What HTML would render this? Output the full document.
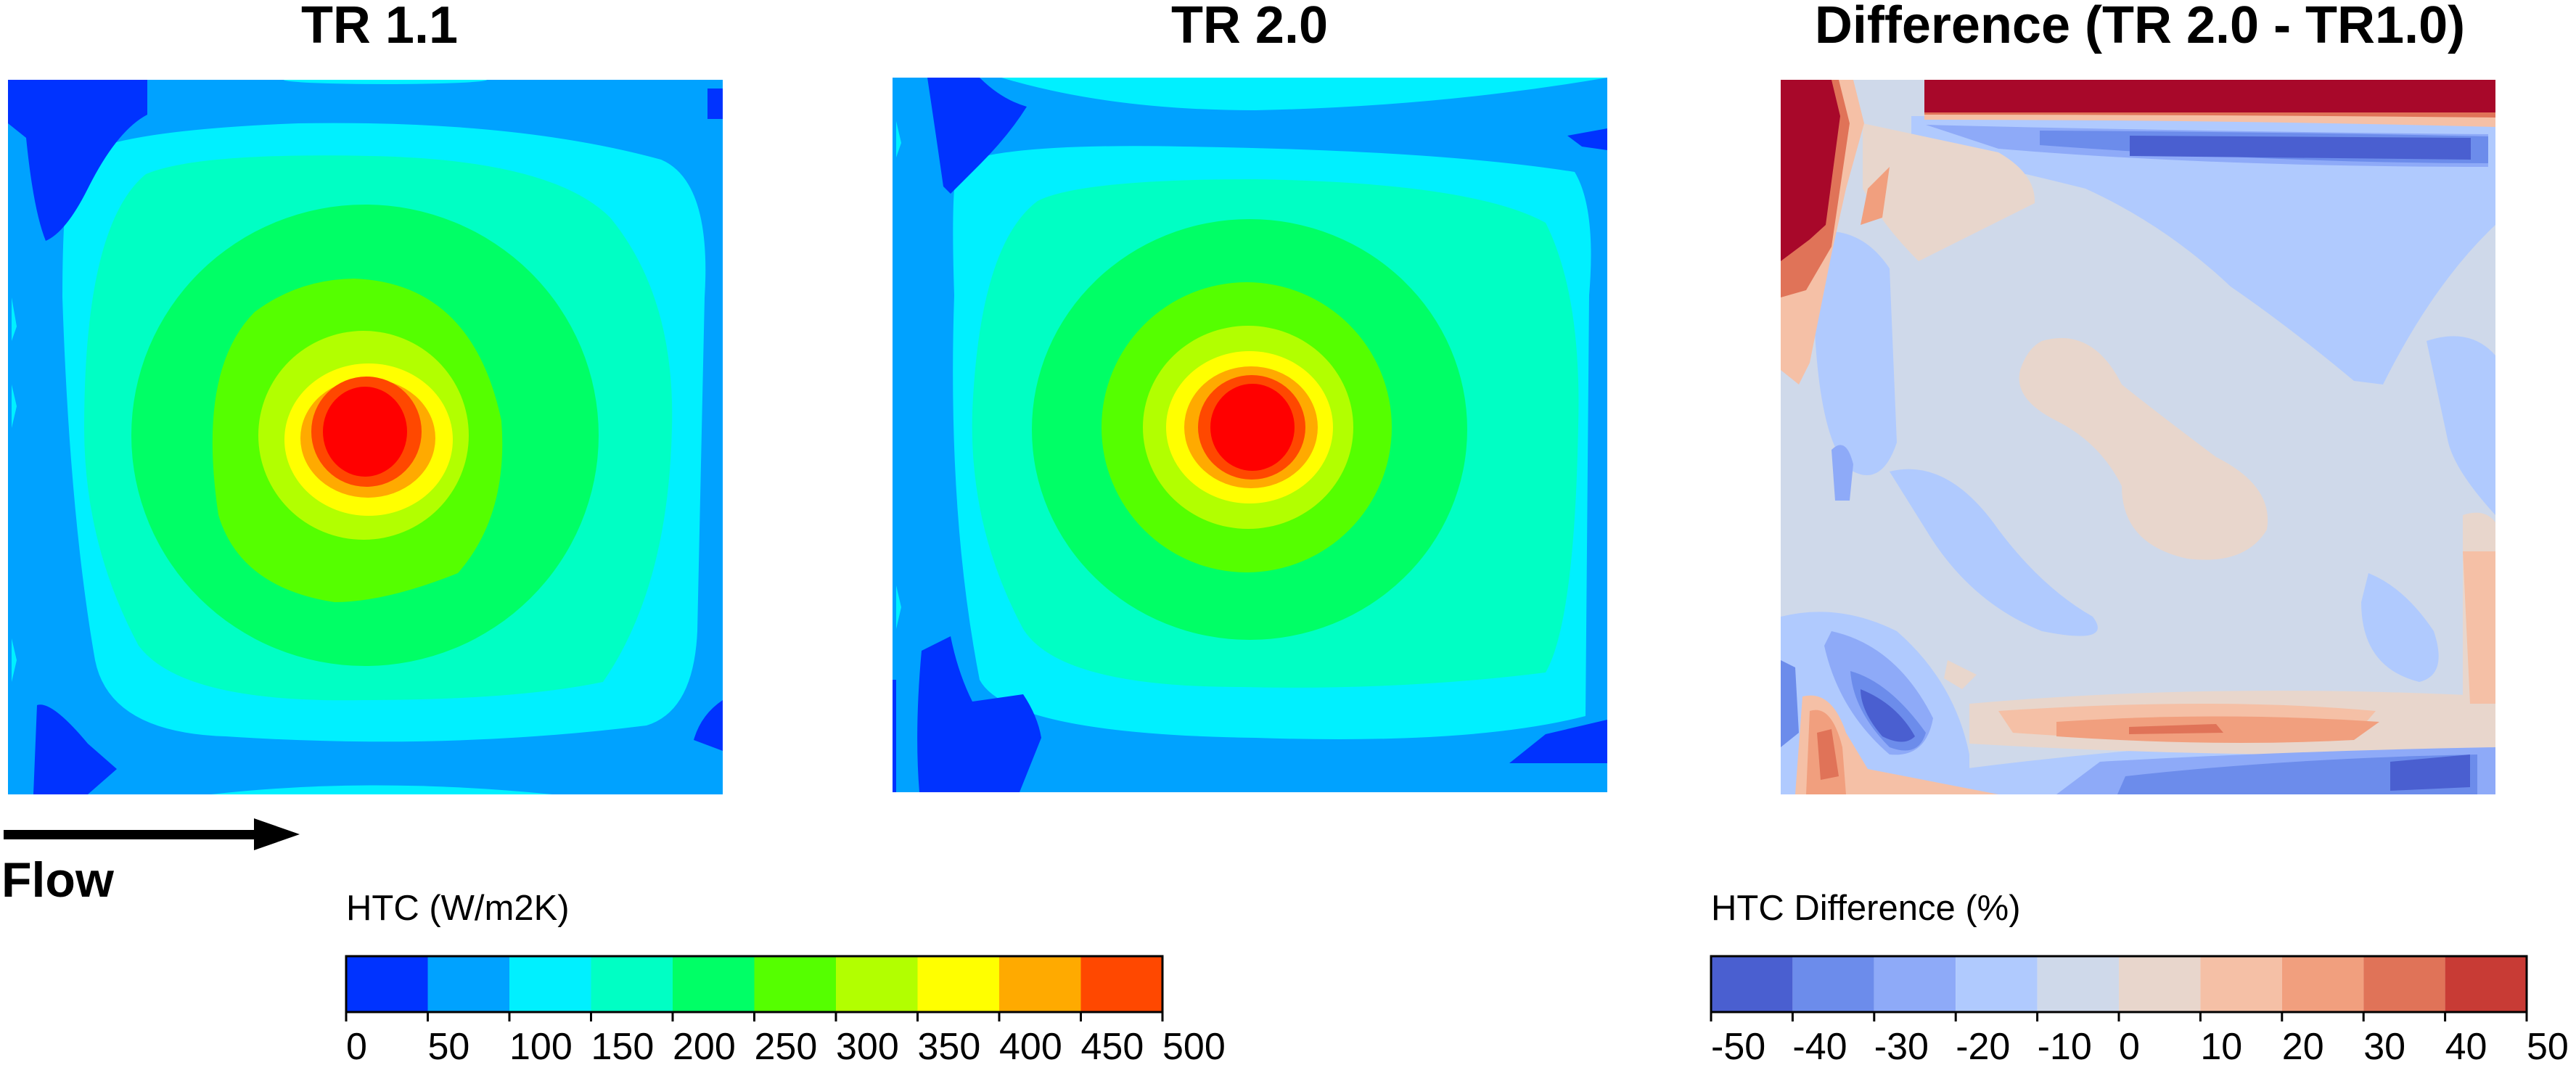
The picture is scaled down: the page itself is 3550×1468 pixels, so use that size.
<!DOCTYPE html>
<html><head><meta charset="utf-8"><style>
html,body{margin:0;padding:0;background:#fff;}
svg{display:block;font-family:"Liberation Sans",Arial,sans-serif;}
</style></head><body>
<svg width="3550" height="1468" viewBox="0 0 3550 1468" xmlns="http://www.w3.org/2000/svg">
<defs>
<clipPath id="c"><rect x="0" y="0" width="985" height="985"/></clipPath>
</defs>
<rect width="3550" height="1468" fill="#fff"/>

<!-- Titles -->
<text x="523" y="59" font-size="72" font-weight="bold" text-anchor="middle">TR 1.1</text>
<text x="1722" y="59" font-size="72" font-weight="bold" text-anchor="middle">TR 2.0</text>
<text x="2949" y="59" font-size="72" font-weight="bold" text-anchor="middle">Difference (TR 2.0 - TR1.0)</text>

<!-- Panel 1 -->
<g transform="translate(11,110)" clip-path="url(#c)">
<rect width="985" height="985" fill="#00a2ff"/>
<ellipse cx="520" cy="0" rx="140" ry="6" fill="#00f0ff"/>
<path d="M280,985 Q500,960 750,985 Z" fill="#00f0ff"/>
<path d="M90,110 Q140,70 400,60 Q700,55 900,110 Q970,140 960,300 L950,760 Q945,870 880,890 Q600,925 300,905 Q140,900 120,800 Q85,600 75,300 Q75,150 90,110 Z" fill="#00f0ff"/>
<path d="M190,130 Q260,100 500,105 Q750,110 830,190 Q920,300 915,480 Q910,700 820,830 Q700,855 490,855 Q240,860 180,780 Q105,640 105,480 Q105,200 190,130 Z" fill="#00ffc4"/>
<ellipse cx="492" cy="490" rx="322" ry="318" fill="#00ff66"/>
<path d="M477,274 Q640,280 680,470 Q690,600 620,680 Q520,720 450,720 Q320,700 290,600 Q260,400 340,320 Q400,275 477,274 Z" fill="#55ff00"/>
<ellipse cx="490" cy="490" rx="145" ry="144" fill="#b2ff00"/>
<ellipse cx="497" cy="496" rx="116" ry="105" fill="#ffff00"/>
<ellipse cx="496" cy="494" rx="93" ry="82" fill="#ffaa00"/>
<ellipse cx="494" cy="485" rx="76" ry="76" fill="#ff4800"/>
<ellipse cx="492" cy="485" rx="58" ry="62" fill="#ff0000"/>
<path d="M0,0 L192,0 L192,48 Q150,70 110,150 Q80,210 52,222 Q35,180 25,80 L0,60 Z" fill="#0033ff"/>
<rect x="964" y="12" width="21" height="42" fill="#0033ff"/>
<path d="M35,985 L40,862 Q60,855 110,915 L150,950 L110,985 Z" fill="#0033ff"/>
<path d="M985,925 L945,910 Q955,875 985,855 Z" fill="#0033ff"/>
<path d="M5,300 L12,340 L5,360 Z M5,420 L12,450 L5,480 Z M5,770 L12,800 L5,830 Z" fill="#00f0ff"/>
</g>

<!-- Panel 2 -->
<g transform="translate(1230,107)" clip-path="url(#c)">
<rect width="985" height="985" fill="#00a2ff"/>
<path d="M150,0 Q300,45 500,45 Q750,40 985,0 Z" fill="#00f0ff"/>
<path d="M90,120 Q150,90 400,95 Q750,100 940,130 Q970,180 960,300 L955,880 Q800,920 500,910 Q160,905 120,830 Q75,600 85,300 Q80,150 90,120 Z" fill="#00f0ff"/>
<path d="M200,170 Q260,140 500,140 Q800,145 900,200 Q950,300 945,480 Q940,750 900,820 Q700,845 480,840 Q230,840 180,760 Q105,620 110,460 Q120,230 200,170 Z" fill="#00ffc4"/>
<ellipse cx="492" cy="485" rx="300" ry="290" fill="#00ff66"/>
<ellipse cx="488" cy="482" rx="200" ry="200" fill="#55ff00"/>
<ellipse cx="490" cy="482" rx="145" ry="140" fill="#b2ff00"/>
<ellipse cx="492" cy="482" rx="115" ry="105" fill="#ffff00"/>
<ellipse cx="494" cy="482" rx="92" ry="84" fill="#ffaa00"/>
<ellipse cx="495" cy="482" rx="74" ry="72" fill="#ff4800"/>
<ellipse cx="496" cy="482" rx="58" ry="60" fill="#ff0000"/>
<path d="M48,0 L120,0 Q150,30 185,40 Q160,80 120,120 Q90,150 80,160 L70,150 Q60,80 48,0 Z" fill="#0033ff"/>
<path d="M930,80 L985,70 L985,100 L950,95 Z" fill="#0033ff"/>
<path d="M40,790 L80,770 Q90,820 110,860 L180,850 Q200,880 205,910 L175,985 L37,985 Q30,900 40,790 Z" fill="#0033ff"/>
<path d="M0,830 L5,830 L5,985 L0,985 Z" fill="#0033ff"/>
<path d="M985,885 L900,905 L850,945 L985,945 Z" fill="#0033ff"/>
<path d="M5,60 L12,90 L5,110 Z M5,700 L12,730 L5,760 Z" fill="#00f0ff"/>
</g>

<!-- Panel 3 -->
<g transform="translate(2454,110)" clip-path="url(#c)">
<rect width="985" height="985" fill="#cfd9ea"/>
<path d="M180,50 L985,50 L985,200 Q900,280 830,420 L790,415 Q700,340 620,285 Q530,200 420,150 Q300,120 180,95 Z" fill="#b0cafe"/>
<path d="M45,210 Q110,200 150,260 L160,500 Q140,560 100,540 Q40,500 45,210 Z" fill="#b0cafe"/>
<path d="M150,540 Q230,520 300,620 Q360,700 430,740 Q460,780 360,760 Q260,720 200,620 Z" fill="#b0cafe"/>
<path d="M810,680 Q860,700 900,760 Q920,820 880,830 Q800,810 800,720 Z" fill="#b0cafe"/>
<path d="M890,360 Q950,340 985,380 L985,600 Q930,540 920,500 Z" fill="#b0cafe"/>
<path d="M0,740 Q80,720 160,760 Q240,830 260,930 L260,985 L0,985 Z" fill="#b0cafe"/>
<path d="M250,950 Q600,905 985,900 L985,985 L250,985 Z" fill="#b0cafe"/>
<path d="M113,60 L300,100 Q352,130 350,170 L190,250 Q140,200 113,150 Z" fill="#e8d6cc"/>
<path d="M360,360 Q430,340 470,420 Q520,460 600,520 Q680,560 670,620 Q640,670 560,660 Q470,640 470,560 Q440,500 380,470 Q320,440 330,400 Q340,370 360,360 Z" fill="#e8d6cc"/>
<path d="M260,860 Q600,830 985,850 L985,930 Q600,935 260,915 Z" fill="#e8d6cc"/>
<path d="M230,800 L270,820 L250,840 L225,825 Z" fill="#e8d6cc"/>
<path d="M940,600 Q970,590 985,610 L985,900 L940,880 Z" fill="#e8d6cc"/>
<path d="M940,650 L985,650 L985,860 L950,860 Z" fill="#f5c0a6"/>
<path d="M300,870 Q600,850 820,870 L790,905 Q600,920 320,900 Z" fill="#f5c0a6"/>
<path d="M380,885 Q600,870 825,885 L790,910 Q600,920 380,905 Z" fill="#f19f7e"/>
<path d="M480,892 L600,888 L610,900 L480,902 Z" fill="#e07358"/>
<path d="M200,62 Q500,70 975,75 L975,120 Q600,120 300,95 Z" fill="#8eaaf8"/>
<path d="M357,70 Q700,72 975,78 L975,115 Q700,115 357,90 Z" fill="#6c8ceb"/>
<path d="M481,77 L951,80 L951,110 L481,105 Z" fill="#4a5fd0"/>
<path d="M380,985 L985,985 L985,920 Q700,925 440,940 Z" fill="#8eaaf8"/>
<path d="M464,985 L960,985 L960,930 Q700,935 475,960 Z" fill="#6c8ceb"/>
<path d="M840,940 L950,930 L950,975 L840,980 Z" fill="#4a5fd0"/>
<path d="M70,510 Q90,490 100,530 L95,580 L75,580 Z" fill="#8eaaf8"/>
<path d="M70,760 Q160,780 210,880 Q200,935 150,930 Q80,870 60,780 Z" fill="#8eaaf8"/>
<path d="M96,815 Q150,830 200,900 Q190,935 150,920 Q100,870 96,815 Z" fill="#6c8ceb"/>
<path d="M110,840 Q160,860 185,905 Q170,920 140,905 Q110,870 110,840 Z" fill="#4a5fd0"/>
<path d="M0,800 L20,810 L25,900 L0,920 Z" fill="#6c8ceb"/>
<path d="M198,0 L985,0 L985,65 Q600,55 198,55 Z" fill="#f5c0a6"/>
<path d="M198,0 L985,0 L985,52 Q600,48 198,48 Z" fill="#e07358"/>
<path d="M198,0 L985,0 L985,45 L198,45 Z" fill="#a8082a"/>
<path d="M0,0 L100,0 L115,60 L90,150 L70,240 L40,390 L25,420 L0,400 Z" fill="#f5c0a6"/>
<path d="M0,0 L80,0 L95,60 L70,230 L35,290 L0,300 Z" fill="#e07358"/>
<path d="M0,0 L70,0 L82,50 L62,200 L40,220 L0,250 Z" fill="#a8082a"/>
<path d="M120,150 L150,120 L140,190 L110,200 Z" fill="#f19f7e"/>
<path d="M30,850 Q70,840 90,900 L120,950 L300,985 L20,985 Z" fill="#f5c0a6"/>
<path d="M40,870 Q70,860 85,920 L90,985 L35,985 Z" fill="#f19f7e"/>
<path d="M50,900 L70,895 L80,960 L55,965 Z" fill="#e07358"/>
</g>

<!-- Flow arrow -->
<rect x="5" y="1144" width="355" height="13" fill="#000"/>
<polygon points="350,1128 413,1150 350,1172" fill="#000"/>
<text x="2" y="1236" font-size="68" font-weight="bold">Flow</text>

<!-- Colorbar 1 -->
<text x="477" y="1268" font-size="49">HTC (W/m2K)</text>
<g transform="translate(477,1318)">
<rect x="0" width="112.5" height="77" fill="#0033ff"/>
<rect x="112.5" width="112.5" height="77" fill="#00a2ff"/>
<rect x="225" width="112.5" height="77" fill="#00f0ff"/>
<rect x="337.5" width="112.5" height="77" fill="#00ffc4"/>
<rect x="450" width="112.5" height="77" fill="#00ff66"/>
<rect x="562.5" width="112.5" height="77" fill="#55ff00"/>
<rect x="675" width="112.5" height="77" fill="#b2ff00"/>
<rect x="787.5" width="112.5" height="77" fill="#ffff00"/>
<rect x="900" width="112.5" height="77" fill="#ffaa00"/>
<rect x="1012.5" width="112.5" height="77" fill="#ff4800"/>
<rect x="0" width="1125" height="77" fill="none" stroke="#000" stroke-width="3"/>
<g stroke="#000" stroke-width="3">
<line x1="0" y1="77" x2="0" y2="90"/><line x1="112.5" y1="77" x2="112.5" y2="90"/><line x1="225" y1="77" x2="225" y2="90"/><line x1="337.5" y1="77" x2="337.5" y2="90"/><line x1="450" y1="77" x2="450" y2="90"/><line x1="562.5" y1="77" x2="562.5" y2="90"/><line x1="675" y1="77" x2="675" y2="90"/><line x1="787.5" y1="77" x2="787.5" y2="90"/><line x1="900" y1="77" x2="900" y2="90"/><line x1="1012.5" y1="77" x2="1012.5" y2="90"/><line x1="1125" y1="77" x2="1125" y2="90"/>
</g>
<g font-size="52">
<text x="0" y="142">0</text><text x="112.5" y="142">50</text><text x="225" y="142">100</text><text x="337.5" y="142">150</text><text x="450" y="142">200</text><text x="562.5" y="142">250</text><text x="675" y="142">300</text><text x="787.5" y="142">350</text><text x="900" y="142">400</text><text x="1012.5" y="142">450</text><text x="1125" y="142">500</text>
</g>
</g>

<!-- Colorbar 2 -->
<text x="2358" y="1268" font-size="49">HTC Difference (%)</text>
<g transform="translate(2358,1318)">
<rect x="0" width="112.4" height="77" fill="#4a5fd0"/>
<rect x="112.4" width="112.4" height="77" fill="#6c8ceb"/>
<rect x="224.8" width="112.4" height="77" fill="#8eaaf8"/>
<rect x="337.2" width="112.4" height="77" fill="#b0cafe"/>
<rect x="449.6" width="112.4" height="77" fill="#cfd9ea"/>
<rect x="562" width="112.4" height="77" fill="#e8d6cc"/>
<rect x="674.4" width="112.4" height="77" fill="#f5c0a6"/>
<rect x="786.8" width="112.4" height="77" fill="#f19f7e"/>
<rect x="899.2" width="112.4" height="77" fill="#e07358"/>
<rect x="1011.6" width="112.4" height="77" fill="#c83b35"/>
<rect x="0" width="1124" height="77" fill="none" stroke="#000" stroke-width="3"/>
<g stroke="#000" stroke-width="3">
<line x1="0" y1="77" x2="0" y2="90"/><line x1="112.4" y1="77" x2="112.4" y2="90"/><line x1="224.8" y1="77" x2="224.8" y2="90"/><line x1="337.2" y1="77" x2="337.2" y2="90"/><line x1="449.6" y1="77" x2="449.6" y2="90"/><line x1="562" y1="77" x2="562" y2="90"/><line x1="674.4" y1="77" x2="674.4" y2="90"/><line x1="786.8" y1="77" x2="786.8" y2="90"/><line x1="899.2" y1="77" x2="899.2" y2="90"/><line x1="1011.6" y1="77" x2="1011.6" y2="90"/><line x1="1124" y1="77" x2="1124" y2="90"/>
</g>
<g font-size="52">
<text x="0" y="142">-50</text><text x="112.4" y="142">-40</text><text x="224.8" y="142">-30</text><text x="337.2" y="142">-20</text><text x="449.6" y="142">-10</text><text x="562" y="142">0</text><text x="674.4" y="142">10</text><text x="786.8" y="142">20</text><text x="899.2" y="142">30</text><text x="1011.6" y="142">40</text><text x="1124" y="142">50</text>
</g>
</g>
</svg>
</body></html>
